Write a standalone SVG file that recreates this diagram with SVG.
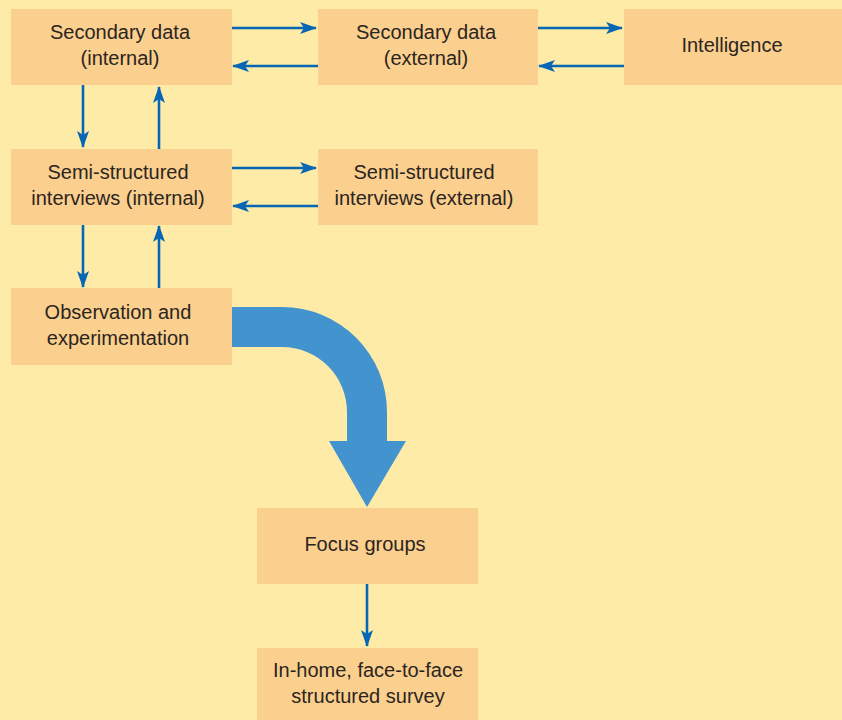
<svg xmlns="http://www.w3.org/2000/svg" width="842" height="720" viewBox="0 0 842 720">
<defs>
<style>
.box{fill:#FBCF8D}
.t{font-family:"Liberation Sans",Arial,sans-serif;font-size:20px;fill:#2B2522;text-anchor:middle}
.c{stroke:#0767B4;stroke-width:2.6;fill:none;marker-end:url(#ah)}
</style>
<marker id="ah" markerUnits="userSpaceOnUse" markerWidth="17" markerHeight="12" viewBox="0 0 17 12" refX="16" refY="6" orient="auto">
<path d="M0,0 L17,6 L0,12 L4,6 Z" fill="#0767B4"/>
</marker>
</defs>
<rect width="842" height="720" fill="#FEEBA7"/>
<g id="n-sec-int"><rect class="box" x="11" y="9" width="221" height="76"/><text class="t" x="120" y="39">Secondary data</text><text class="t" x="120" y="65">(internal)</text></g>
<g id="n-sec-ext"><rect class="box" x="318" y="9" width="220" height="76"/><text class="t" x="426" y="39">Secondary data</text><text class="t" x="426" y="65">(external)</text></g>
<g id="n-intel"><rect class="box" x="624" y="9" width="218" height="76"/><text class="t" x="732" y="52">Intelligence</text></g>
<g id="n-semi-int"><rect class="box" x="11" y="149" width="221" height="76"/><text class="t" x="118" y="179">Semi-structured</text><text class="t" x="118" y="205">interviews (internal)</text></g>
<g id="n-semi-ext"><rect class="box" x="318" y="149" width="220" height="76"/><text class="t" x="424" y="179">Semi-structured</text><text class="t" x="424" y="205">interviews (external)</text></g>
<g id="n-obs"><rect class="box" x="11" y="288" width="221" height="77"/><text class="t" x="118" y="319">Observation and</text><text class="t" x="118" y="345">experimentation</text></g>
<g id="n-focus"><rect class="box" x="257" y="508" width="221" height="76"/><text class="t" x="365" y="551">Focus groups</text></g>
<g id="n-survey"><rect class="box" x="257" y="648" width="221" height="76"/><text class="t" x="368" y="677">In-home, face-to-face</text><text class="t" x="368" y="703">structured survey</text></g>
<g id="connectors">
<line class="c" x1="232" y1="28" x2="316" y2="28"/>
<line class="c" x1="318" y1="66" x2="233" y2="66"/>
<line class="c" x1="538" y1="28" x2="622" y2="28"/>
<line class="c" x1="624" y1="66" x2="539" y2="66"/>
<line class="c" x1="83" y1="85" x2="83" y2="147"/>
<line class="c" x1="159" y1="149" x2="159" y2="87"/>
<line class="c" x1="232" y1="168" x2="316" y2="168"/>
<line class="c" x1="318" y1="206" x2="233" y2="206"/>
<line class="c" x1="83" y1="225" x2="83" y2="287"/>
<line class="c" x1="159" y1="288" x2="159" y2="226"/>
<line class="c" x1="367" y1="584" x2="367" y2="646"/>
<path d="M232,307 L282,307 A105,105 0 0 1 387,412 L387,441 L406,441 L367,507 L329,441 L347,441 L347,412 A65,65 0 0 0 282,347 L232,347 Z" fill="#4393CF"/>
</g>
</svg>
